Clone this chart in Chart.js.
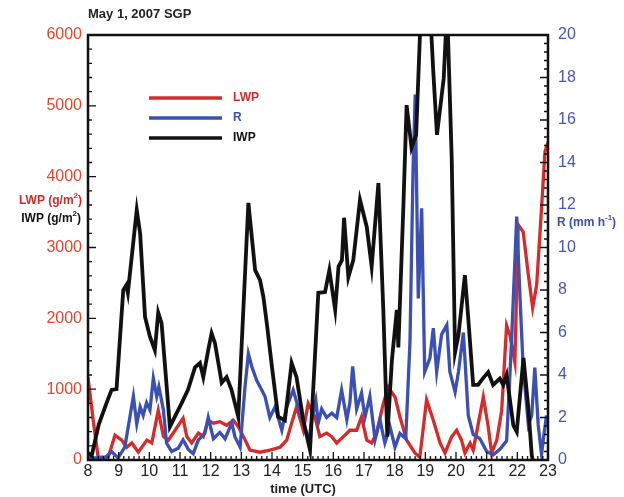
<!DOCTYPE html>
<html>
<head>
<meta charset="utf-8">
<script src="https://cdn.jsdelivr.net/npm/chart.js@4.4.1/dist/chart.umd.min.js"></script>
<style>
  html, body { margin: 0; padding: 0; background: #fff; }
  canvas { display: block; }
</style>
</head>
<body>
<canvas id="sgpChart" width="624" height="497"></canvas>
<script>
// time (UTC hours) and values
const iwpTime = [8.0, 8.12, 8.35, 8.6, 8.77, 8.93, 9.15, 9.25, 9.3, 9.59, 9.7, 9.86, 10.02, 10.18, 10.29, 10.4, 10.67,
  11.05, 11.26, 11.49, 11.65, 11.76, 11.92, 12.03, 12.14, 12.36, 12.52, 12.68, 12.9, 13.23, 13.45, 13.61, 13.72, 13.83,
  14.0, 14.2, 14.42, 14.64, 14.8, 15.02, 15.24, 15.51, 15.73, 15.87, 16.06, 16.17, 16.28, 16.35, 16.49, 16.65, 16.87,
  17.09, 17.25, 17.47, 17.63, 17.76, 17.91, 18.07, 18.12, 18.28, 18.39, 18.55, 18.7, 18.86, 19.15, 19.26, 19.38, 19.6,
  19.71, 19.86, 19.97, 20.08, 20.29, 20.4, 20.56, 20.72, 20.89, 21.05, 21.21, 21.43, 21.54, 21.65, 21.87, 21.98, 22.2,
  22.36, 22.47, 22.5];
const iwpValues = [100, 60, 500, 800, 990, 1000, 2400, 2470, 2360, 3530, 3200, 2020, 1740, 1550, 2080, 1930, 470,
  800, 990, 1310, 1370, 1170, 1550, 1790, 1650, 1090, 1170, 990, 610, 3630, 2680, 2540, 2300, 1930,
  1310, 610, 560, 1370, 1170, 560, 140, 2360, 2370, 2680, 2120, 2730, 2820, 3420, 2580, 2820, 3670,
  3290, 2730, 3910, 2120, 330, 1410, 2120, 1590, 3530, 5010, 4410, 4590, 6400, 6400, 5480, 4590, 5390,
  6400, 4260, 1520, 1760, 2610, 2000, 1060, 1060, 1160, 1240, 1060, 1150, 1060, 1200, 490, 400, 1440,
  730, 70, 0];

const lwpTime = [8.0, 8.17, 8.33, 8.66, 8.88, 9.1, 9.26, 9.43, 9.64, 9.92, 10.08, 10.29, 10.46, 10.62, 10.84, 11.1,
  11.22, 11.38, 11.6, 11.76, 11.92, 12.09, 12.3, 12.52, 12.74, 12.9, 13.07, 13.28, 13.61, 13.93, 14.26, 14.48, 14.64,
  14.8, 15.02, 15.18, 15.4, 15.56, 15.78, 15.95, 16.11, 16.33, 16.54, 16.76, 16.92, 17.09, 17.25, 17.41, 17.63, 17.79,
  18.01, 18.17, 18.39, 18.66, 18.82, 19.04, 19.26, 19.48, 19.64, 19.86, 20.02, 20.18, 20.29, 20.46, 20.56, 20.73, 20.89,
  21.05, 21.16, 21.33, 21.49, 21.65, 21.76, 21.92, 22.03, 22.19, 22.36, 22.5, 22.63, 22.79, 22.9, 23.0];
const lwpValues = [1170, 560, 40, 40, 350, 280, 180, 240, 110, 280, 240, 700, 330, 280, 420, 590,
  330, 240, 380, 330, 560, 520, 540, 490, 560, 470, 330, 140, 110, 140, 180, 280, 520,
  750, 420, 800, 610, 330, 380, 330, 240, 330, 420, 420, 610, 280, 240, 380, 800, 1030,
  890, 610, 280, 100, 40, 850, 560, 240, 100, 330, 420, 280, 100, 240, 140, 520, 890,
  470, 100, 280, 700, 1900, 1760, 1380, 3320, 3220, 2610, 2150, 2470, 3560, 4350, 4490];

const rTime = [8.0, 8.55, 8.77, 8.98, 9.2, 9.48, 9.59, 9.7, 9.8, 9.91, 10.02, 10.13, 10.24, 10.31, 10.46, 10.56, 10.73,
  10.94, 11.1, 11.27, 11.43, 11.6, 11.81, 11.92, 12.09, 12.3, 12.47, 12.69, 12.79, 12.96, 13.12, 13.23, 13.34, 13.5,
  13.77, 13.93, 14.1, 14.32, 14.48, 14.69, 14.91, 15.07, 15.2, 15.3, 15.43, 15.51, 15.62, 15.78, 15.95, 16.11, 16.27,
  16.44, 16.54, 16.63, 16.76, 16.92, 17.03, 17.19, 17.36, 17.52, 17.68, 17.85, 18.01, 18.17, 18.36, 18.5, 18.6, 18.67,
  18.77, 18.88, 18.98, 19.15, 19.26, 19.37, 19.53, 19.7, 19.8, 19.97, 20.08, 20.24, 20.4, 20.56, 20.78, 21.0, 21.21,
  21.43, 21.65, 21.81, 21.98, 22.08, 22.19, 22.36, 22.47, 22.57, 22.68, 22.79, 22.84, 22.95];
const rValues = [0.1, 0.1, 0.4, 0.1, 0.6, 3.0, 1.7, 2.5, 2.1, 2.7, 2.35, 3.85, 3.0, 3.45, 2.35, 0.8, 0.4,
  0.55, 0.95, 0.5, 0.3, 0.95, 1.25, 2.0, 1.0, 1.3, 1.0, 1.75, 1.1, 0.6, 3.45, 5.0, 4.4, 3.75,
  3.0, 2.0, 2.5, 1.4, 2.5, 3.3, 2.2, 1.55, 0.9, 1.9, 2.8, 1.75, 2.4, 2.0, 2.2, 2.0, 3.3,
  1.9, 2.7, 4.4, 2.4, 3.15, 2.0, 3.0, 0.95, 1.9, 0.8, 1.55, 0.6, 1.25, 1.0, 5.6, 13.7, 17.2,
  7.6, 11.85, 4.15, 4.8, 6.2, 4.15, 5.9, 6.35, 4.15, 3.2, 4.15, 6.0, 2.1, 1.2, 1.0, 0.4, 0.25,
  0.5, 0.9, 5.55, 11.45, 7.9, 4.35, 1.65, 2.1, 4.35, 1.65, 0.25, 0.9, 2.1];

const lwpTicks = [0, 1000, 2000, 3000, 4000, 5000, 6000];
const rTicks = [0, 2, 4, 6, 8, 10, 12, 14, 16, 18, 20];
const hourTicks = [8, 9, 10, 11, 12, 13, 14, 15, 16, 17, 18, 19, 20, 21, 22, 23];

const RED = "#d82a2a";
const BLUE = "#3b4fb4";
const BLACK = "#111111";

function pairs(xs, ys) {
  return xs.map((t, i) => ({ x: t, y: ys[i] }));
}

// draw text with a superscript part, right or left aligned
function supText(ctx, parts, x, y, align) {
  let w = 0;
  parts.forEach((p) => {
    ctx.font = p.sup ? "bold 8px 'Liberation Sans', Arial" : "bold 12px 'Liberation Sans', Arial";
    w += ctx.measureText(p.t).width;
  });
  let cx = align === "right" ? x - w : x;
  parts.forEach((p) => {
    ctx.font = p.sup ? "bold 8px 'Liberation Sans', Arial" : "bold 12px 'Liberation Sans', Arial";
    ctx.fillText(p.t, cx, p.sup ? y - 5 : y);
    cx += ctx.measureText(p.t).width;
  });
}

const framePlugin = {
  id: "framePlugin",
  afterDraw(chart) {
    const ctx = chart.ctx;
    const a = chart.chartArea;
    const xs = chart.scales.x;
    const ys = chart.scales.y;
    const rs = chart.scales.yR;
    ctx.save();
    ctx.strokeStyle = "#111";

    // inward ticks
    ctx.lineWidth = 1.3;
    ctx.beginPath();
    for (let v = 0; v <= 6000; v += 200) {
      const y = ys.getPixelForValue(v);
      const len = v % 1000 === 0 ? 8 : 4;
      ctx.moveTo(a.left, y);
      ctx.lineTo(a.left + len, y);
    }
    for (let k = 0; k <= 50; k++) {
      const v = k * 0.4;
      const y = rs.getPixelForValue(v);
      const len = k % 5 === 0 ? 8 : 4;
      ctx.moveTo(a.right, y);
      ctx.lineTo(a.right - len, y);
    }
    for (let k = 0; k <= 90; k++) {
      const v = 8 + k / 6;
      const x = xs.getPixelForValue(v);
      const len = k % 6 === 0 ? 8 : 4;
      ctx.moveTo(x, a.bottom);
      ctx.lineTo(x, a.bottom - len);
    }
    ctx.stroke();

    // frame
    ctx.lineWidth = 2.5;
    ctx.strokeRect(a.left, a.top, a.right - a.left, a.bottom - a.top);

    // legend
    const leg = [
      { label: "LWP", color: RED, y: 98 },
      { label: "R", color: BLUE, y: 118 },
      { label: "IWP", color: BLACK, y: 138 },
    ];
    ctx.lineWidth = 3.5;
    ctx.textBaseline = "middle";
    ctx.textAlign = "left";
    ctx.font = "bold 12px 'Liberation Sans', Arial";
    leg.forEach((l) => {
      ctx.strokeStyle = l.color;
      ctx.beginPath();
      ctx.moveTo(149, l.y);
      ctx.lineTo(222, l.y);
      ctx.stroke();
      ctx.fillStyle = l.color;
      ctx.fillText(l.label, 233, l.y);
    });

    // title and axis titles
    ctx.fillStyle = "#222";
    ctx.font = "bold 13px 'Liberation Sans', Arial";
    ctx.fillText("May 1, 2007 SGP", 88, 14);
    ctx.textAlign = "center";
    ctx.fillText("time (UTC)", 303, 489);

    ctx.textAlign = "left";
    ctx.fillStyle = RED;
    supText(ctx, [{ t: "LWP (g/m" }, { t: "2", sup: true }, { t: ")" }], 82, 201, "right");
    ctx.fillStyle = BLACK;
    supText(ctx, [{ t: "IWP (g/m" }, { t: "2", sup: true }, { t: ")" }], 81, 219, "right");
    ctx.fillStyle = BLUE;
    supText(ctx, [{ t: "R (mm h" }, { t: "-1", sup: true }, { t: ")" }], 557, 223, "left");
    ctx.restore();
  },
};

new Chart("sgpChart", {
  type: "line",
  data: {
    datasets: [
      {
        label: "IWP",
        data: pairs(iwpTime, iwpValues),
        borderColor: BLACK,
        borderWidth: 3.8,
        yAxisID: "y",
        order: 0,
      },
      {
        label: "R",
        data: pairs(rTime, rValues),
        borderColor: BLUE,
        borderWidth: 3.3,
        yAxisID: "yR",
        order: 1,
      },
      {
        label: "LWP",
        data: pairs(lwpTime, lwpValues),
        borderColor: RED,
        borderWidth: 3.3,
        yAxisID: "y",
        order: 2,
      },
    ],
  },
  options: {
    responsive: false,
    animation: false,
    elements: {
      point: { radius: 0 },
      line: { tension: 0, borderJoinStyle: "miter" },
    },
    layout: { padding: { top: 35, left: 0, right: 0, bottom: 0 } },
    plugins: {
      legend: { display: false },
      tooltip: { enabled: false },
    },
    scales: {
      x: {
        type: "linear",
        position: "bottom",
        min: 8,
        max: 23,
        afterFit: (s) => { s.height = 37; },
        afterBuildTicks: (s) => { s.ticks = hourTicks.map((v) => ({ value: v })); },
        grid: { display: false, drawTicks: false },
        border: { display: false },
        ticks: {
          color: "#222",
          font: { family: "'Liberation Sans', Arial", size: 16 },
          padding: 2,
          maxRotation: 0,
          autoSkip: false,
          callback: (v) => String(v),
        },
      },
      y: {
        type: "linear",
        axis: "y",
        position: "left",
        min: 0,
        max: 6000,
        afterFit: (s) => { s.width = 88; },
        afterBuildTicks: (s) => { s.ticks = lwpTicks.map((v) => ({ value: v })); },
        grid: { display: false, drawTicks: false },
        border: { display: false },
        ticks: {
          color: "#e4472f",
          font: { family: "'Liberation Sans', Arial", size: 16 },
          padding: 6,
          callback: (v) => String(v),
        },
      },
      yR: {
        type: "linear",
        axis: "y",
        position: "right",
        min: 0,
        max: 20,
        afterFit: (s) => { s.width = 76; },
        afterBuildTicks: (s) => { s.ticks = rTicks.map((v) => ({ value: v })); },
        grid: { display: false, drawTicks: false },
        border: { display: false },
        ticks: {
          color: "#4856b8",
          font: { family: "'Liberation Sans', Arial", size: 16 },
          padding: 10,
          callback: (v) => String(v),
        },
      },
    },
  },
  plugins: [framePlugin],
});
</script>
</body>
</html>
